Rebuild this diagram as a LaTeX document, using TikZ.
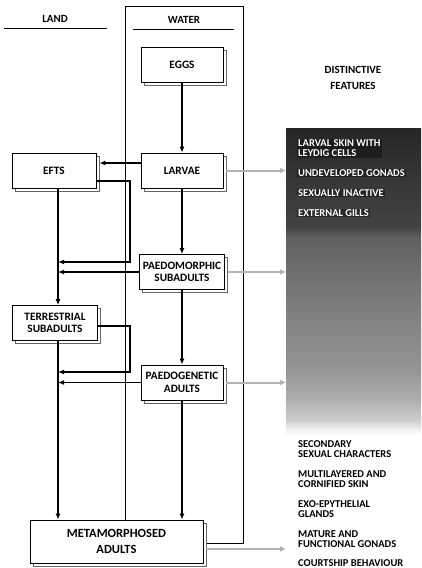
\documentclass[tikz,border=0pt]{standalone}
\usepackage{fontspec}
\setmainfont{Carlito}
\usetikzlibrary{arrows.meta,positioning,shadows}
\pgfdeclareverticalshading{featurefade}{100bp}{color(0bp)=(white); color(25bp)=(white); color(26bp)=(black!6);
  color(27.5bp)=(black!20); color(31bp)=(black!32); color(36bp)=(black!42); color(47bp)=(black!52);
  color(57bp)=(black!62); color(59bp)=(black!74); color(66bp)=(black!78); color(75bp)=(black!85); color(100bp)=(black!85)}

\begin{document}
\begin{tikzpicture}[
    x=1pt,y=-1pt,
    font=\bfseries\fontsize{10.5}{10}\selectfont,
    stage/.style={rectangle,draw,fill=white,line width=0.8pt,align=center,minimum width=82pt,minimum height=35pt,
        font=\bfseries\fontsize{11.3}{12.5}\selectfont,
        copy shadow={shadow xshift=3pt,shadow yshift=-3pt,draw=black!60,fill=white,line width=0.6pt}},
    arrow/.style={-{Latex[length=6pt,width=5pt]},line width=1.8pt},
    feature/.style={-{Latex[length=6pt,width=6pt]},line width=2pt,draw=black!30,fill=black!30},
    header/.style={font=\bfseries\fontsize{11}{10}\selectfont},
    trait/.style={anchor=west,align=left,inner sep=1pt},
    darktrait/.style={trait,text=white,fill=black,fill opacity=0.35,text opacity=1}
]
\path[use as bounding box,fill=white] (0,0) rectangle (421,568);

% water panel and headers
\draw[line width=0.6pt] (125,6) rectangle (243,543);
\node[header] (land) at (55,19) {LAND};
\node[header] (water) at (184,20) {WATER};
\draw[line width=0.8pt] (4,28.5) -- (107,28.5);
\draw[line width=0.8pt] (133,29) -- (234,29);

% life stages
\node[stage] (eggs) at (182,64.5) {EGGS};
\node[stage] (larvae) at (182,170.5) {LARVAE};
\node[stage] (paedomorphic) at (182,272) {PAEDOMORPHIC\\SUBADULTS};
\node[stage] (paedogenetic) at (182,382.5) {PAEDOGENETIC\\ADULTS};
\node[stage,minimum width=84pt] (efts) at (54,170.5) {EFTS};
\node[stage,minimum width=85pt] (terrestrial) at (55,323) {TERRESTRIAL\\SUBADULTS};
\node[stage,minimum width=173pt,minimum height=43pt,font=\bfseries\fontsize{12.5}{16}\selectfont] (adults) at (116.5,541.5) {METAMORPHOSED\\ADULTS};

\coordinate (spine) at (58,0);
\coordinate (loop1) at (130,262);
\coordinate (loop2) at (130,372);

\draw[arrow] (eggs) -- (larvae);
\draw[arrow] (larvae) -- (paedomorphic);
\draw[arrow] (paedomorphic) -- (paedogenetic);
\draw[arrow] (paedogenetic.south) -- (paedogenetic.south |- adults.north);
\draw[arrow] ([yshift=7.5pt]larvae.west) -- ([xshift=3pt,yshift=7.5pt]efts.east);
\draw[arrow] ([yshift=-10.5pt]efts.east) -| (loop1) -- (loop1 -| spine);
\draw[arrow] (paedomorphic.west) -- (paedomorphic.west -| spine);
\draw[arrow] (efts.south -| spine) -- (terrestrial.north -| spine);
\draw[arrow] ([yshift=-3pt]terrestrial.east) -| (loop2) -- (loop2 -| spine);
\draw[arrow] (paedogenetic.west) -- (paedogenetic.west -| spine);
\draw[arrow] (terrestrial.south -| spine) -- (adults.north -| spine);

% distinctive features
\node[header,align=center,font=\bfseries\fontsize{11}{16}\selectfont] (title) at (353,78) {DISTINCTIVE\\FEATURES};
\node[rectangle,minimum width=135pt,minimum height=307pt,anchor=north west,inner sep=0pt,
    shading=featurefade] (panel) at (286,128) {};
\node[darktrait] (skin) at (297,148.5) {LARVAL SKIN WITH\\LEYDIG CELLS};
\node[darktrait] (gonads) at (297,173) {UNDEVELOPED GONADS};
\node[darktrait] (inactive) at (297,193) {SEXUALLY INACTIVE};
\node[darktrait] (gills) at (297,213) {EXTERNAL GILLS};
\node[trait] (secondary) at (297,449) {SECONDARY\\SEXUAL CHARACTERS};
\node[trait] (cornified) at (297,479) {MULTILAYERED AND\\CORNIFIED SKIN};
\node[trait] (glands) at (297,509) {EXO-EPYTHELIAL\\GLANDS};
\node[trait] (mature) at (297,539) {MATURE AND\\FUNCTIONAL GONADS};
\node[trait] (courtship) at (297,563) {COURTSHIP BEHAVIOUR};

\draw[feature] ([xshift=3pt]larvae.east) -- (larvae.east -| panel.west);
\draw[feature] ([xshift=3pt]paedomorphic.east) -- (paedomorphic.east -| panel.west);
\draw[feature] ([xshift=3pt]paedogenetic.east) -- (paedogenetic.east -| panel.west);
\draw[feature] ([xshift=3pt,yshift=-7.5pt]adults.east) -- ([yshift=-7.5pt]adults.east -| panel.west);
\end{tikzpicture}
\end{document}
